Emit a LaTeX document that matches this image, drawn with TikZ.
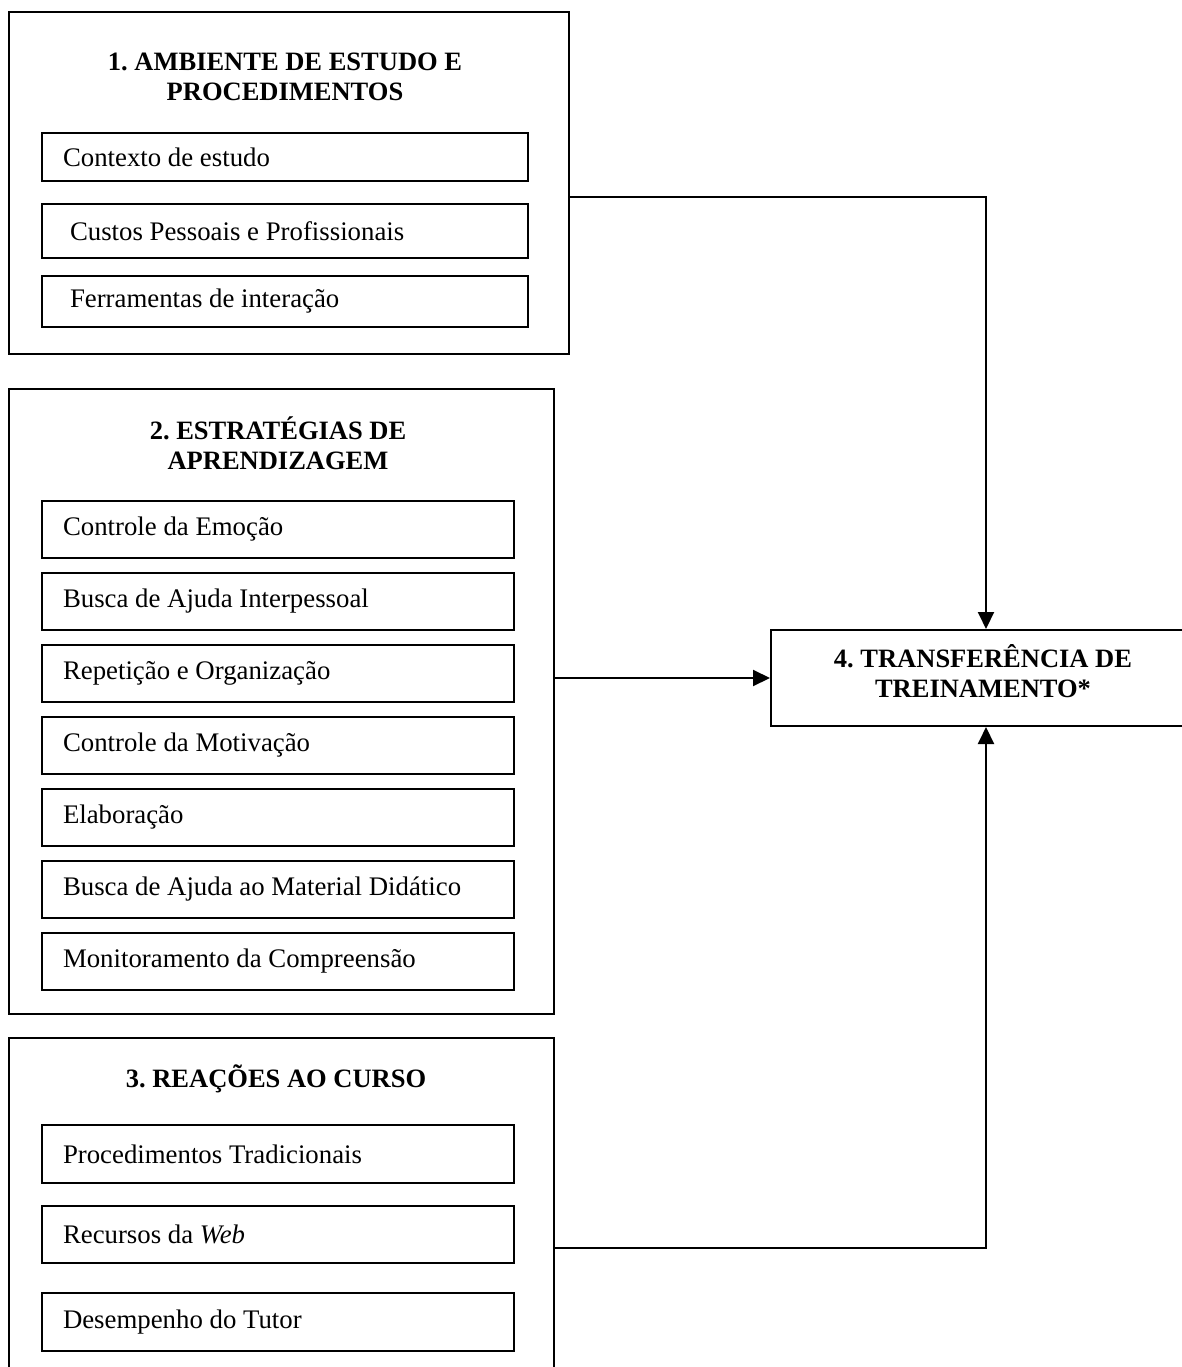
\documentclass[tikz,border=0pt]{standalone}
\usepackage{fontspec}
\setmainfont{Liberation Serif}
\usetikzlibrary{arrows.meta}
\frenchspacing
\begin{document}
\begin{tikzpicture}[x=1pt,y=-1pt,
  frame/.style={draw, line width=2pt, inner sep=0pt, anchor=north west},
  item/.style={draw, line width=2pt, anchor=north west, inner xsep=21pt,
    inner ysep=0pt, align=flush left, text width=430pt,
    font=\fontsize{26.8}{32}\selectfont},
  wideitem/.style={item, text width=444pt},
  heading/.style={align=center, inner sep=0pt, font=\fontsize{26.5}{29.5}\selectfont\bfseries},
  conn/.style={line width=2pt, -{Triangle[length=17pt,width=16pt]}}]
\useasboundingbox (0,0) rectangle (1182,1367);
\clip (0,0) rectangle (1182,1367);

% group 1
\node[frame, minimum width=560pt, minimum height=342pt] (b1) at (8,11) {};
\node[heading] (t1) at (285,77) {1. AMBIENTE DE ESTUDO E\\PROCEDIMENTOS};
\node[wideitem, minimum height=48pt] (c11) at (41,132) {Contexto de estudo};
\node[wideitem, minimum height=54pt] (c12) at (41,203) {\hspace*{7pt}Custos Pessoais e Profissionais};
\node[wideitem, minimum height=51pt] (c13) at (41,275) {\hspace*{7pt}Ferramentas de intera\c{c}\~ao};

% group 2
\node[frame, minimum width=545pt, minimum height=625pt] (b2) at (8,388) {};
\node[heading] (t2) at (278,443.5) {2. ESTRATÉGIAS DE\\APRENDIZAGEM};
\node[item, minimum height=57pt] (c21) at (41,500) {Controle da Emoção};
\node[item, minimum height=57pt] (c22) at (41,572) {Busca de Ajuda Interpessoal};
\node[item, minimum height=57pt] (c23) at (41,644) {Repetição e Organização};
\node[item, minimum height=57pt] (c24) at (41,716) {Controle da Motivação};
\node[item, minimum height=57pt] (c25) at (41,788) {Elaboração};
\node[item, minimum height=57pt] (c26) at (41,860) {Busca de Ajuda ao Material Didático};
\node[item, minimum height=57pt] (c27) at (41,932) {Monitoramento da Compreensão};

% group 3
\node[frame, minimum width=545pt, minimum height=400pt] (b3) at (8,1037) {};
\node[heading] (t3) at (276,1079) {3. REAÇÕES AO CURSO};
\node[item, minimum height=58pt] (c31) at (41,1124) {Procedimentos Tradicionais};
\node[item, minimum height=57pt] (c32) at (41,1205) {Recursos da \textit{Web}};
\node[item, minimum height=58pt] (c33) at (41,1292) {Desempenho do Tutor};

% outcome
\node[frame, minimum width=430pt, minimum height=96pt] (b4) at (770,629) {};
\node[heading] (t4) at (983,671) {4. TRANSFERÊNCIA DE\\TREINAMENTO*};

% connectors
\coordinate (r1) at (0,197);
\coordinate (r3) at (0,1248);
\draw[conn] (b1.east |- r1) -| (b4.north);
\draw[conn] (b2.east |- b4.west) -- (b4.west);
\draw[conn] (b3.east |- r3) -| (b4.south);
\end{tikzpicture}
\end{document}
